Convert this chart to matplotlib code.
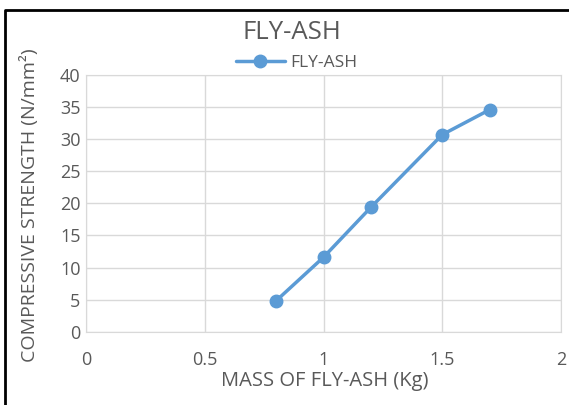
import matplotlib
matplotlib.use("Agg")
import matplotlib.pyplot as plt
from matplotlib.lines import Line2D

# mass of fly-ash (kg) and compressive strength (N/mm2)
masse = [0.8, 1.0, 1.2, 1.5, 1.7]
resistance = [4.8, 11.6, 19.4, 30.7, 34.6]
x_ticks = [0, 0.5, 1, 1.5, 2]
x_labels = ["0", "0.5", "1", "1.5", "2"]
y_ticks = [0, 5, 10, 15, 20, 25, 30, 35, 40]

plt.rcParams['font.family'] = ['Open Sans', 'DejaVu Sans']
gris = '#595959'
bleu = '#5B9BD5'
W, H = 569, 405

fig = plt.figure(figsize=(W / 100, H / 100), dpi=100)
ax = fig.add_axes([86/W, 1 - 331.7/H, (561 - 86)/W, (331.7 - 75)/H])

ax.plot(masse, resistance, color=bleu, linewidth=2.5, marker='o',
        markersize=9, label='FLY-ASH', solid_capstyle='round')

ax.set_xlim(0, 2)
ax.set_ylim(0, 40)
ax.set_xticks(x_ticks)
ax.set_xticklabels(x_labels)
ax.set_yticks(y_ticks)
ax.grid(True, color='#d9d9d9', linewidth=1)
ax.set_axisbelow(True)
for s in ax.spines.values():
    s.set_color('#d9d9d9')
ax.tick_params(length=0, colors=gris, labelsize=13)
ax.tick_params(axis='x', pad=14)
ax.tick_params(axis='y', pad=4)

ax.set_xlabel("MASS OF FLY-ASH (Kg)", color=gris, fontsize=14.5)
ax.set_ylabel("COMPRESSIVE STRENGTH (N/mm²)", color=gris, fontsize=14)
ax.xaxis.set_label_coords(325/W, 1 - 381/H, transform=fig.transFigure)
ax.yaxis.set_label_coords(30/W, 1 - 205/H, transform=fig.transFigure)
ax.xaxis.label.set_va('center')
ax.yaxis.label.set_va('center')

fig.text(292/W, 1 - 32.5/H, "FLY-ASH", color=gris, fontsize=18.5,
         ha='center', va='center')
ax.legend(loc='center', bbox_to_anchor=(296.5/W, 1 - 63/H),
          bbox_transform=fig.transFigure, frameon=False,
          fontsize=12.5, labelcolor=gris, handlelength=2.8, borderpad=0,
          handletextpad=0.3)

# black frame around chart
fig.add_artist(Line2D([5/W, 5/W, 1], [0, 1 - 10/H, 1 - 10/H],
                      transform=fig.transFigure, color='black', linewidth=2))

fig.savefig("out.png", dpi=100)
